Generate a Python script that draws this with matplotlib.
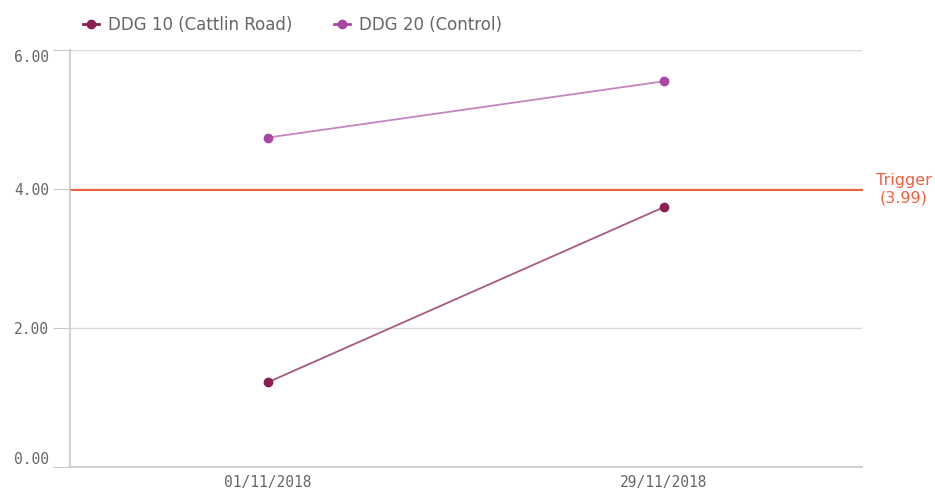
import numpy as np
import matplotlib
matplotlib.use("Agg")
import matplotlib.pyplot as plt

# data
dates = ["01/11/2018", "29/11/2018"]
ddg10 = [1.22, 3.74]   # DDG 10 (Cattlin Road)
ddg20 = [4.74, 5.55]   # DDG 20 (Control)
trigger = 3.99
y_ticks = [0, 2, 4, 6]
y_tick_labels = ["0.00", "2.00", "4.00", "6.00"]

c10_mark, c10_line = "#8a1f52", "#a85a82"
c20_mark, c20_line = "#a845a2", "#c685bf"
trig_col = "#f0603f"
grey_txt = "#666666"
axis_col = "#c8c8c8"

fig = plt.figure(figsize=(9.35, 4.92), dpi=100)
ax = fig.add_axes([70 / 935, 25 / 492, 792 / 935, 417 / 492])

x = np.arange(len(dates))
ax.plot(x, ddg10, color=c10_line, lw=1.3, zorder=3)
ax.plot(x, ddg10, "o", color=c10_mark, ms=6, zorder=4)
ax.plot(x, ddg20, color=c20_line, lw=1.3, zorder=3)
ax.plot(x, ddg20, "o", color=c20_mark, ms=6, zorder=4)

ax.axhline(trigger, color=trig_col, lw=1.5, zorder=2, clip_on=False)
ax.annotate("Trigger\n(%.2f)" % trigger, xy=(1.0, trigger), xycoords=("axes fraction", "data"),
            xytext=(30, 0), textcoords="offset points", ha="center", va="center",
            color=trig_col, fontsize=11.5, linespacing=1.2, annotation_clip=False)

ax.set_xlim(-0.5, 1.5)
ax.set_ylim(0, 6)
ax.set_xticks(x)
ax.set_xticklabels(dates, family="DejaVu Sans Mono", fontsize=10.5, color=grey_txt)
ax.tick_params(axis="x", length=0, pad=6)
ax.set_yticks(y_ticks)
ax.set_yticklabels(y_tick_labels, family="DejaVu Sans Mono", fontsize=10.5, color=grey_txt)
ax.tick_params(axis="y", length=12, color=axis_col, pad=3)
labs = ax.get_yticklabels()
labs[0].set_va("bottom")
labs[-1].set_va("top")

ax.grid(axis="y", color="#d9d9d9", lw=1)
ax.set_axisbelow(True)
for s in ["top", "right"]:
    ax.spines[s].set_visible(False)
for s in ["left", "bottom"]:
    ax.spines[s].set_color(axis_col)
    ax.spines[s].set_linewidth(1.2)

h1, = ax.plot([], [], "-o", color=c10_mark, ms=6, lw=2)
h2, = ax.plot([], [], "-o", color=c20_mark, ms=6, lw=2)
fig.legend([h1, h2], ["DDG 10 (Cattlin Road)", "DDG 20 (Control)"], loc="upper left",
           bbox_to_anchor=(0.0725, 0.998), ncol=2, frameon=False, fontsize=12,
           handlelength=1.0, handletextpad=0.5, columnspacing=2.5, labelcolor=grey_txt)

fig.savefig("out.png", dpi=100)
